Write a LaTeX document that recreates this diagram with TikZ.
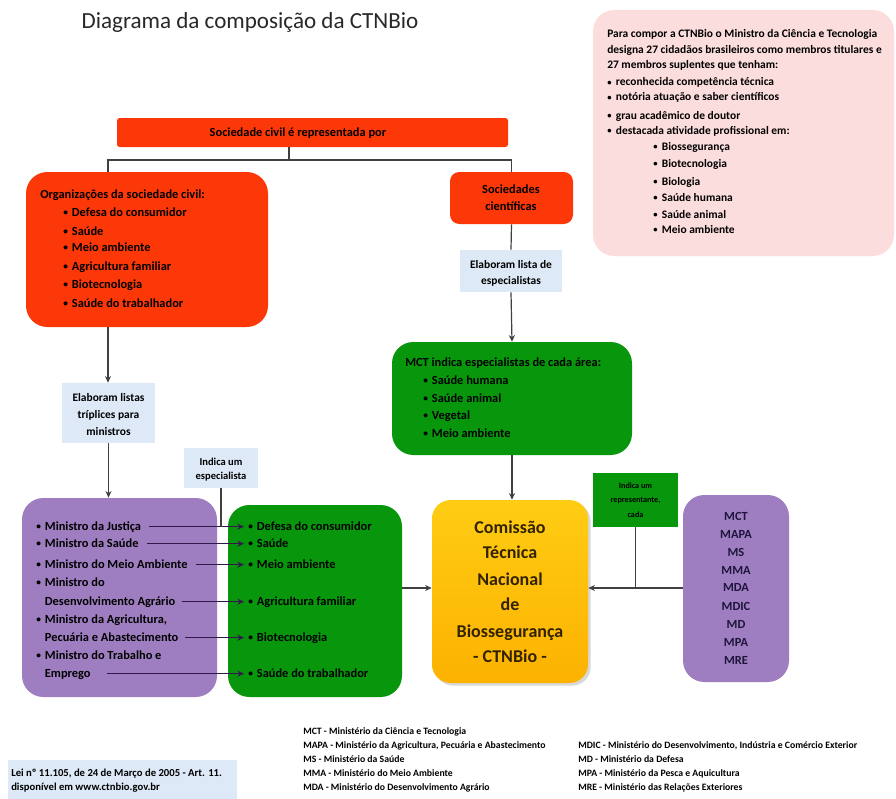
\documentclass[tikz,border=0pt]{standalone}
\usepackage{fontspec}
\setmainfont{Carlito}
\usetikzlibrary{shadows,arrows.meta,fit}
\definecolor{cred}{RGB}{252,56,8}
\definecolor{cgreen}{RGB}{8,150,12}
\definecolor{cpurple}{RGB}{158,126,192}
\definecolor{cblue}{RGB}{221,233,246}
\definecolor{cpink}{RGB}{252,221,221}
\definecolor{cline}{RGB}{64,64,64}
\definecolor{carr}{RGB}{50,25,75}
\definecolor{cnavy}{RGB}{30,20,60}
\definecolor{ctitle}{RGB}{40,40,40}
\definecolor{cyelA}{RGB}{255,204,20}
\definecolor{cyelB}{RGB}{252,178,0}
\definecolor{cctn}{RGB}{50,35,0}
\newcommand{\mybul}{\makebox[6.5pt][l]{\raisebox{0.12ex}{\scalebox{0.75}{•}}}}
\begin{document}
\begin{tikzpicture}[x=0.75pt,y=-0.75pt,
  box/.style={inner sep=0pt, draw=none},
  ln/.style={inner sep=0pt, anchor=base west, text height=7pt, text depth=2pt},
  cn/.style={inner sep=0pt, anchor=base},
  fA/.style={font=\bfseries\fontsize{8.6}{10}\selectfont},
  fB/.style={font=\bfseries\fontsize{9.3}{11}\selectfont},
  fBar/.style={font=\bfseries\fontsize{9.3}{11}\selectfont},
  fE/.style={font=\bfseries\fontsize{8.6}{10}\selectfont},
  fI/.style={font=\bfseries\fontsize{7.9}{9}\selectfont},
  fR/.style={font=\bfseries\fontsize{6.1}{7}\selectfont},
  fL/.style={font=\bfseries\fontsize{7.3}{8.5}\selectfont},
  fLei/.style={font=\bfseries\fontsize{8}{9}\selectfont},
  fT/.style={font=\bfseries\fontsize{13.5}{16}\selectfont, text=cctn},
  conn/.style={draw=cline, line width=0.9pt},
  arr/.style={conn, -{Stealth[length=5pt,width=4.5pt]}},
  marr/.style={draw=carr, line width=1.1pt, -{Stealth[length=5pt,width=4.5pt]}},
]
\useasboundingbox[fill=white] (0,0) rectangle (896,799);

% title
\node[inner sep=0pt, font=\fontsize{17.3}{19}\selectfont, text=ctitle] (title) at (250,22) {Diagrama da composição da CTNBio};

% pink info box
\node[box, fill=cpink, rounded corners=16pt, fit={(593,10)(894,256)}] (pink) {};
\node[ln,fA] (p1) at (607,38) {Para compor a CTNBio o Ministro da Ciência e Tecnologia};
\node[ln,fA] (p2) at (607,54) {designa 27 cidadãos brasileiros como membros titulares e};
\node[ln,fA] (p3) at (607,69) {27 membros suplentes que tenham:};
\node[ln,fA] (p4) at (607,86) {\mybul reconhecida competência técnica};
\node[ln,fA] (p5) at (607,101) {\mybul notória atuação e saber científicos};
\node[ln,fA] (p6) at (607,119) {\mybul grau acadêmico de doutor};
\node[ln,fA] (p7) at (607,134) {\mybul destacada atividade profissional em:};
\node[ln,fA] (p8) at (653,150) {\mybul Biossegurança};
\node[ln,fA] (p9) at (653,167) {\mybul Biotecnologia};
\node[ln,fA] (p10) at (653,185) {\mybul Biologia};
\node[ln,fA] (p11) at (653,201) {\mybul Saúde humana};
\node[ln,fA] (p12) at (653,218) {\mybul Saúde animal};
\node[ln,fA] (p13) at (653,233) {\mybul Meio ambiente};

% top bar
\node[box, fill=cred, rounded corners=2pt, fit={(117,118)(508,147)}] (bar) {};
\node[inner sep=0pt, fBar] (bart) at (298,133) {Sociedade civil é representada por};

% organizations box
\node[box, fill=cred, rounded corners=16pt, fit={(26,172)(268,327)}] (org) {};
\node[ln,fB] (o0) at (40,198) {Organizações da sociedade civil:};
\node[ln,fB] (o1) at (63,216) {\mybul Defesa do consumidor};
\node[ln,fB] (o2) at (63,235) {\mybul Saúde};
\node[ln,fB] (o3) at (63,251) {\mybul Meio ambiente};
\node[ln,fB] (o4) at (63,270) {\mybul Agricultura familiar};
\node[ln,fB] (o5) at (63,288) {\mybul Biotecnologia};
\node[ln,fB] (o6) at (63,307) {\mybul Saúde do trabalhador};

% scientific societies
\node[box, fill=cred, rounded corners=7pt, fit={(450,172)(573,224)}] (soc) {};
\node[cn,fB] (s1) at (511,193) {Sociedades};
\node[cn,fB] (s2) at (511,210) {científicas};

% connectors from bar
\coordinate (jc) at (289,160);
\coordinate (jl) at (108,160);
\draw[conn] (jc |- bar.south) -- (jc);
\draw[conn] (jl |- org.north) -- (jl) -- (soc.north |- jl) -- (soc.north);

% elab 1
\node[box, fill=cblue, fit={(460,250)(562,292)}] (elab1) {};
\node[cn,fE] (e11) at (511,268) {Elaboram lista de};
\node[cn,fE] (e12) at (511,284) {especialistas};
\draw[conn] (soc.south) -- (elab1.north);

% MCT green box
\node[box, fill=cgreen, rounded corners=16pt, fit={(392,342)(632,455)}] (mct) {};
\node[ln,fB] (c0) at (405,366) {MCT indica especialistas de cada área:};
\node[ln,fB] (c1) at (423,384) {\mybul Saúde humana};
\node[ln,fB] (c2) at (423,402) {\mybul Saúde animal};
\node[ln,fB] (c3) at (423,419) {\mybul Vegetal};
\node[ln,fB] (c4) at (423,437) {\mybul Meio ambiente};
\draw[arr] (elab1.south) -- (mct.north);

% elab 2
\node[box, fill=cblue, fit={(62,383)(155,443)}] (elab2) {};
\node[cn,fE] (e21) at (108.5,401) {Elaboram listas};
\node[cn,fE] (e22) at (108.5,418) {tríplices para};
\node[cn,fE] (e23) at (108.5,435) {ministros};
\draw[arr] (jl |- org.south) -- (jl |- elab2.north);

% purple ministers box
\node[box, fill=cpurple, rounded corners=16pt, fit={(22,498)(217,697)}] (pl) {};
\draw[arr] (elab2.south) -- (elab2.south |- pl.north);
\node[ln,fB] (m1) at (36,530) {\mybul Ministro da Justiça};
\node[ln,fB] (m2) at (36,547) {\mybul Ministro da Saúde};
\node[ln,fB] (m3) at (36,568) {\mybul Ministro do Meio Ambiente};
\node[ln,fB] (m4a) at (36,586) {\mybul Ministro do};
\node[ln,fB] (m4) at (36,605) {\makebox[6.5pt]{}Desenvolvimento Agrário};
\node[ln,fB] (m5a) at (36,623) {\mybul Ministro da Agricultura,};
\node[ln,fB] (m5) at (36,641) {\makebox[6.5pt]{}Pecuária e Abastecimento};
\node[ln,fB] (m6a) at (36,659) {\mybul Ministro do Trabalho e};
\node[ln,fB] (m6) at (36,677) {\makebox[6.5pt]{}Emprego};

% green middle box
\node[box, fill=cgreen, rounded corners=16pt, fit={(228,505)(402,697)}] (gm) {};
\node[ln,fB] (g1) at (248,530) {\mybul Defesa do consumidor};
\node[ln,fB] (g2) at (248,547) {\mybul Saúde};
\node[ln,fB] (g3) at (248,568) {\mybul Meio ambiente};
\node[ln,fB] (g4) at (248,605) {\mybul Agricultura familiar};
\node[ln,fB] (g5) at (248,641) {\mybul Biotecnologia};
\node[ln,fB] (g6) at (248,677) {\mybul Saúde do trabalhador};

% indica especialista
\node[box, fill=cblue, fit={(184,448)(258,488)}] (ind) {};
\node[cn,fI] (i1) at (221,465) {Indica um};
\node[cn,fI] (i2) at (221,479) {especialista};

% minister arrows
\draw[marr] ([xshift=6pt]m1.east) -- ([xshift=-3pt]g1.west);
\draw[marr] ([xshift=6pt]m2.east) -- ([xshift=-3pt]g2.west);
\draw[marr] ([xshift=6pt]m3.east) -- ([xshift=-3pt]g3.west);
\draw[marr] ([xshift=5pt]m4.east) -- ([xshift=-3pt]g4.west);
\draw[marr] ([xshift=5pt]m5.east) -- ([xshift=-3pt]g5.west);
\draw[marr] ([xshift=12pt]m6.east) -- ([xshift=-3pt]g6.west);
\draw[conn] (ind.south) -- (ind.south |- m1.east);

% CTNBio box
\node[box, fit={(432,500)(588,683)}, rounded corners=14pt, top color=cyelA, bottom color=cyelB,
  drop shadow={opacity=0.3, shadow xshift=2pt, shadow yshift=-2pt}] (ctn) {};
\node[cn,fT] (t1) at (510,533) {Comissão};
\node[cn,fT] (t2) at (510,558) {Técnica};
\node[cn,fT] (t3) at (510,585) {Nacional};
\node[cn,fT] (t4) at (510,610) {de};
\node[cn,fT] (t5) at (510,637) {Biossegurança};
\node[cn,fT] (t6) at (510,662) {- CTNBio -};

\draw[arr] (mct.south) -- (mct.south |- ctn.north);
\draw[arr] (gm.east |- 0,588) -- (ctn.west |- 0,588);

% representante box
\node[box, fill=cgreen, fit={(593,473)(678,527)}] (rep) {};
\node[cn,fR] (r1) at (635.5,488) {Indica um};
\node[cn,fR] (r2) at (635.5,502) {representante,};
\node[cn,fR] (r3) at (635.5,517) {cada};

% right purple box
\node[box, fill=cpurple, rounded corners=16pt, fit={(683,495)(789,682)}] (rp) {};
\node[cn,fB,text=cnavy] (q1) at (736,520) {MCT};
\node[cn,fB,text=cnavy] (q2) at (736,538) {MAPA};
\node[cn,fB,text=cnavy] (q3) at (736,556) {MS};
\node[cn,fB,text=cnavy] (q4) at (736,574) {MMA};
\node[cn,fB,text=cnavy] (q5) at (736,591) {MDA};
\node[cn,fB,text=cnavy] (q6) at (736,610) {MDIC};
\node[cn,fB,text=cnavy] (q7) at (736,628) {MD};
\node[cn,fB,text=cnavy] (q8) at (736,646) {MPA};
\node[cn,fB,text=cnavy] (q9) at (736,664) {MRE};
\coordinate (rj) at (637,588);
\draw[arr] (rp.west |- rj) -- (ctn.east |- rj);
\draw[conn] (rep.south) -- (rep.south |- rj);

% legend
\node[ln,fL] (l1) at (303,734) {MCT - Ministério da Ciência e Tecnologia};
\node[ln,fL] (l2) at (303,748) {MAPA - Ministério da Agricultura, Pecuária e Abastecimento};
\node[ln,fL] (l3) at (303,762) {MS - Ministério da Saúde};
\node[ln,fL] (l4) at (303,776) {MMA - Ministério do Meio Ambiente};
\node[ln,fL] (l5) at (303,790) {MDA - Ministério do Desenvolvimento Agrário};
\node[ln,fL] (l6) at (578,748) {MDIC - Ministério do Desenvolvimento, Indústria e Comércio Exterior};
\node[ln,fL] (l7) at (578,762) {MD - Ministério da Defesa};
\node[ln,fL] (l8) at (578,776) {MPA - Ministério da Pesca e Aquicultura};
\node[ln,fL] (l9) at (578,790) {MRE - Ministério das Relações Exteriores};

% lei box
\node[box, fill=cblue, fit={(8,760)(237,802)}] (lei) {};
\node[ln,fLei] (lei1) at (11,776) {Lei nº 11.105, de 24 de Março de 2005 - Art. 11.};
\node[ln,fLei] (lei2) at (11,790) {disponível em www.ctnbio.gov.br};
\end{tikzpicture}
\end{document}
